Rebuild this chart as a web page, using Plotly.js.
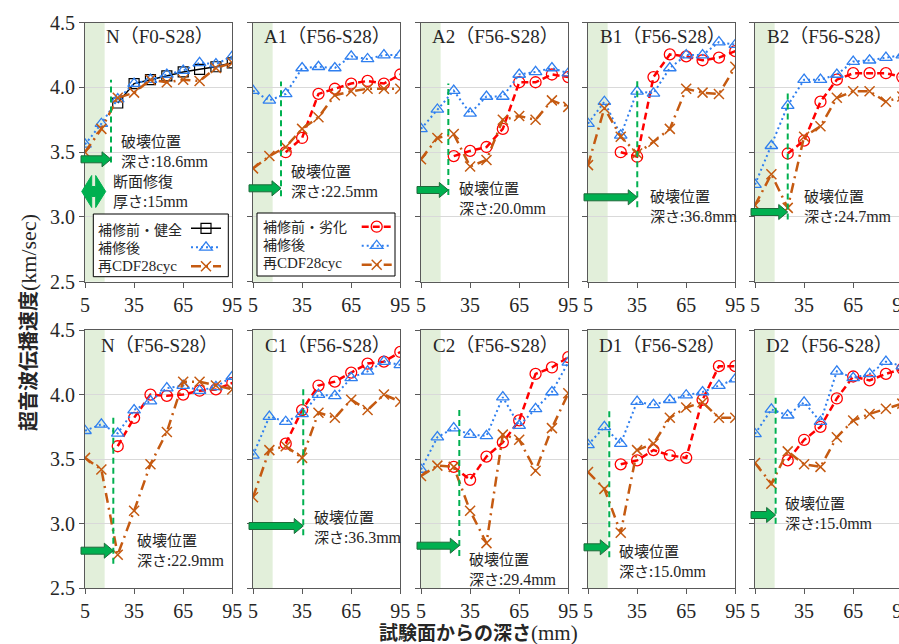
<!DOCTYPE html>
<html><head><meta charset="utf-8">
<script src="https://cdn.plot.ly/plotly-3.0.1.min.js"></script>
<style>html,body{margin:0;padding:0;overflow:hidden;background:#fff}#chart{width:905px;height:644px}</style>
</head><body><div id="chart"></div>
<script>
// ---------- data ----------
const depth = [5, 15, 25, 35, 45, 55, 65, 75, 85, 95];
const xTickVals = [5, 35, 65, 95];
const yTickVals = [2.5, 3.0, 3.5, 4.0, 4.5];
const panelTitles = ['N（F0-S28）','A1（F56-S28）','A2（F56-S28）','B1（F56-S28）','B2（F56-S28）',
                     'N（F56-S28）','C1（F56-S28）','C2（F56-S28）','D1（F56-S28）','D2（F56-S28）'];
const seriesNames = ['補修前・健全', '補修前・劣化', '補修後', '再CDF28cyc'];
const breakDepthLabel = ['18.6','22.5','20.0','36.8','24.7','22.9','36.3','29.4','15.0','15.0'];
const repairThickness = '15';

// 補修前 (panel 1: 健全, others: 劣化)
const before_N_F0 = [null, null, 3.88, 4.03, 4.06, 4.09, 4.12, 4.14, 4.16, 4.19];
const before_A1   = [null, null, 3.50, 3.61, 3.95, 3.99, 4.03, 4.05, 4.03, 4.10];
const before_A2   = [null, null, 3.47, 3.51, 3.54, 3.68, 4.04, 4.04, 4.10, 4.08];
const before_B1   = [null, null, 3.50, 3.465, 4.08, 4.255, 4.24, 4.21, 4.23, 4.28];
const before_B2   = [null, null, 3.49, 3.59, 3.89, 4.06, 4.11, 4.11, 4.11, 4.08];
const before_N_F56= [null, null, 3.60, 3.82, 4.00, 3.99, 4.00, 4.03, 4.04, 4.09];
const before_C1   = [null, null, 3.62, 3.88, 4.07, 4.10, 4.17, 4.24, 4.255, 4.33];
const before_C2   = [null, null, 3.44, 3.34, 3.52, 3.63, 3.80, 4.16, 4.21, 4.29];
const before_D1   = [null, null, 3.46, 3.49, 3.57, 3.53, 3.51, 3.96, 4.22, 4.22];
const before_D2   = [null, null, 3.49, 3.65, 3.75, 3.97, 4.14, 4.11, 4.16, 4.20];

// 補修後
const after_N_F0  = [3.56, 3.72, 3.91, 4.03, 4.06, 4.10, 4.13, 4.19, 4.18, 4.24];
const after_A1    = [3.975, 3.90, 3.95, 4.15, 4.16, 4.15, 4.24, 4.22, 4.25, 4.25];
const after_A2    = [3.68, 3.83, 3.975, 3.80, 3.93, 3.93, 4.10, 4.12, 4.15, 4.11];
const after_B1    = [3.72, 3.89, 3.63, 3.97, 3.955, 4.15, 4.25, 4.25, 4.35, 4.33];
const after_B2    = [3.25, 3.55, 3.86, 4.06, 4.06, 4.10, 4.20, 4.21, 4.23, 4.25];
const after_N_F56 = [3.72, 3.77, 3.70, 3.88, 3.95, 4.05, 4.07, 4.03, 4.06, 4.14];
const after_C1    = [3.53, 3.83, 3.79, 3.85, 4.00, 3.99, 4.13, 4.18, 4.255, 4.23];
const after_C2    = [3.42, 3.67, 3.74, 3.69, 3.68, 3.98, 3.76, 3.89, 4.02, 4.25];
const after_D1    = [3.61, 3.75, 3.62, 3.945, 3.92, 3.96, 3.995, 4.02, 4.07, 4.12];
const after_D2    = [3.695, 3.885, 3.84, 3.94, 3.79, 4.18, 4.13, 4.16, 4.255, 4.22];

// 再CDF28cyc
const recdf_N_F0  = [3.50, 3.68, 3.92, 3.96, 4.06, 4.04, 4.06, 4.05, 4.15, 4.19];
const recdf_A1    = [3.375, 3.47, 3.54, 3.68, 3.77, 3.94, 3.97, 3.99, 3.99, 3.99];
const recdf_A2    = [3.445, 3.61, 3.64, 3.39, 3.44, 3.75, 3.78, 3.75, 3.90, 3.85];
const recdf_B1    = [3.40, 3.84, 3.62, 3.49, 3.58, 3.68, 3.99, 3.96, 3.95, 4.16];
const recdf_B2    = [3.09, 3.33, 3.07, 3.62, 3.70, 3.92, 3.97, 3.97, 3.89, 3.93];
const recdf_N_F56 = [3.51, 3.42, 2.76, 3.10, 3.46, 3.71, 4.10, 4.10, 4.07, 4.04];
const recdf_C1    = [3.205, 3.57, 3.60, 3.51, 3.86, 3.82, 3.96, 3.88, 4.00, 3.945];
const recdf_C2    = [3.37, 3.45, 3.44, 3.10, 2.85, 3.69, 3.65, 3.41, 3.74, 4.01];
const recdf_D1    = [3.40, 3.27, 2.93, 3.57, 3.62, 3.82, 3.90, 3.94, 3.82, 3.82];
const recdf_D2    = [3.47, 3.31, 3.56, 3.46, 3.44, 3.67, 3.80, 3.85, 3.89, 3.93];

// ---------- layout geometry / styling (not data) ----------
const W = 905, H = 644;
const colLeft = [85, 253, 421, 588, 755];
const colW = 147.3;
const rowTop = [22.7, 330];
const rowH = [259, 258.3];
const BLUE = '#2F7FEF', RED = '#FF0000', ORANGE = '#C55A11', BLACK = '#000000', GREEN = '#00B050', DKGREEN = '#1E6B3A';
const TXT = '#262626';
const SERIF = 'Liberation Serif';
const SERIF_CSS = "'Liberation Serif'";
const CJK = 'Noto Sans CJK JP';
const px2x = p => p / W, py2y = p => 1 - p / H;

const befores = [before_N_F0, before_A1, before_A2, before_B1, before_B2, before_N_F56, before_C1, before_C2, before_D1, before_D2];
const afters  = [after_N_F0, after_A1, after_A2, after_B1, after_B2, after_N_F56, after_C1, after_C2, after_D1, after_D2];
const recdfs  = [recdf_N_F0, recdf_A1, recdf_A2, recdf_B1, recdf_B2, recdf_N_F56, recdf_C1, recdf_C2, recdf_D1, recdf_D2];

// decoration placement per panel
const deco = [
  {lineX: 20.9, lineY: [3.42, 4.06],  arrowPy: 159.3, textPx: [119.3, 150.9]},
  {lineX: 22.1, lineY: [3.16, 4.045], arrowPy: 188.3, textPx: [289.3, 180.5]},
  {lineX: 21.7, lineY: [3.17, 4.03],  arrowPy: 190.0, textPx: [456.7, 197.5]},
  {lineX: 35.1, lineY: [3.075, 4.07], arrowPy: 197.3, textPx: [647.7, 205.3]},
  {lineX: 25.0, lineY: [2.98, 3.975], arrowPy: 212.0, textPx: [801.7, 205.3]},
  {lineX: 22.3, lineY: [2.69, 3.84],  arrowPy: 550.7, textPx: [135.0, 549.2]},
  {lineX: 35.7, lineY: [2.91, 4.06],  arrowPy: 526.0, textPx: [311.7, 526.7]},
  {lineX: 28.4, lineY: [2.75, 3.89],  arrowPy: 545.7, textPx: [467.3, 568.0]},
  {lineX: 18.0, lineY: [2.74, 3.89],  arrowPy: 547.3, textPx: [616.7, 560.0]},
  {lineX: 17.6, lineY: [3.00, 4.00],  arrowPy: 515.0, textPx: [782.7, 512.5]}
];

const traces = [];
const layout = {
  width: W, height: H,
  margin: {l: 0, r: 0, t: 0, b: 0},
  paper_bgcolor: '#ffffff', plot_bgcolor: 'rgba(0,0,0,0)',
  showlegend: true, hovermode: false,
  font: {family: CJK, color: TXT},
  shapes: [], annotations: [],
  legend:  {x: px2x(186), y: py2y(213.8), xanchor: 'left', yanchor: 'top', bgcolor: 'rgba(0,0,0,0)', borderwidth: 0, font: {size: 10}, itemwidth: 30, tracegroupgap: 0},
  legend2: {x: px2x(356.7), y: py2y(212.2), xanchor: 'left', yanchor: 'top', bgcolor: 'rgba(0,0,0,0)', borderwidth: 0, font: {size: 10}, itemwidth: 30, tracegroupgap: 0}
};

// legend boxes
layout.shapes.push({type: 'rect', xref: 'paper', yref: 'paper', x0: px2x(93.3), x1: px2x(228.3), y0: py2y(276.7), y1: py2y(214),
  fillcolor: '#ffffff', line: {color: '#000', width: 1}, layer: 'above'});
layout.shapes.push({type: 'rect', xref: 'paper', yref: 'paper', x0: px2x(257), x1: px2x(395), y0: py2y(276), y1: py2y(213),
  fillcolor: '#ffffff', line: {color: '#000', width: 1}, layer: 'above'});

for (let i = 0; i < 10; i++) {
  const row = i < 5 ? 0 : 1, col = i % 5;
  const n = i === 0 ? '' : String(i + 1);
  const xa = 'x' + n, ya = 'y' + n;
  const left = colLeft[col];
  layout['xaxis' + n] = {
    domain: [px2x(left), px2x(left + colW)], anchor: ya, range: [5, 95],
    tickmode: 'array', tickvals: xTickVals, ticks: 'outside', ticklen: 5, tickcolor: '#595959',
    showline: true, mirror: true, linecolor: '#595959', linewidth: 1,
    showgrid: false, zeroline: false, fixedrange: true, ticklabeloverflow: 'allow',
    tickfont: {family: SERIF, size: 20, color: TXT}
  };
  layout['yaxis' + n] = {
    domain: [py2y(rowTop[row] + rowH[row]), py2y(rowTop[row])], anchor: xa, range: [2.5, 4.5],
    tickmode: 'array', tickvals: yTickVals, tickformat: '.1f', showticklabels: col === 0,
    ticks: 'outside', ticklen: 5, tickcolor: '#595959',
    showline: true, mirror: true, linecolor: '#595959', linewidth: 1,
    showgrid: true, gridcolor: '#d9d9d9', gridwidth: 1, zeroline: false, fixedrange: true,
    tickfont: {family: SERIF, size: 20, color: TXT}
  };

  const legendId = i === 0 ? 'legend' : (i === 1 ? 'legend2' : null);
  const base = {x: depth, xaxis: xa, yaxis: ya, type: 'scatter', mode: 'lines+markers', name: '',
                showlegend: legendId !== null, legend: legendId || 'legend'};
  if (i === 0) {
    traces.push(Object.assign({}, base, {y: befores[i],
      line: {color: BLACK, width: 1.5},
      marker: {symbol: 'square-open', size: 10, color: BLACK, line: {width: 1.2, color: BLACK}}}));
  } else {
    traces.push(Object.assign({}, base, {y: befores[i],
      line: {color: RED, width: 2.5, dash: '7px,4px'},
      marker: {symbol: 'circle-open', size: 11, color: RED, line: {width: 1.3, color: RED}}}));
  }
  traces.push(Object.assign({}, base, {y: afters[i],
    line: {color: BLUE, width: 2, dash: '2px,3px'},
    marker: {symbol: 'triangle-up-open', size: 11, color: BLUE, line: {width: 1.3, color: BLUE}}}));
  traces.push(Object.assign({}, base, {y: recdfs[i],
    line: {color: ORANGE, width: 2.5, dash: '10px,5px,2px,5px'},
    marker: {symbol: 'x-thin', size: 10, color: ORANGE, line: {width: 1.5, color: ORANGE}}}));

  layout.shapes.push({type: 'rect', xref: xa, yref: ya + ' domain', x0: 5, x1: 17, y0: 0, y1: 1,
    fillcolor: '#E2EFDA', line: {width: 0}, layer: 'below'});
  const d = deco[i];
  layout.shapes.push({type: 'line', xref: xa, yref: ya, x0: d.lineX, x1: d.lineX, y0: d.lineY[0], y1: d.lineY[1],
    line: {color: GREEN, width: 2, dash: '6px,4px'}, layer: 'above'});
  const startPx = left - 4;
  const tipPx = left + (d.lineX - 5) * colW / 90;
  const L = tipPx - startPx;
  layout.shapes.push({type: 'path', xref: 'paper', yref: 'paper', xsizemode: 'pixel', ysizemode: 'pixel',
    xanchor: px2x(startPx), yanchor: py2y(d.arrowPy),
    path: `M0,-3.5 L${L - 9},-3.5 L${L - 9},-7.5 L${L},0 L${L - 9},7.5 L${L - 9},3.5 L0,3.5 Z`,
    fillcolor: GREEN, line: {color: DKGREEN, width: 1}, layer: 'above'});
  layout.annotations.push({xref: 'paper', yref: 'paper', x: px2x(d.textPx[0]), y: py2y(d.textPx[1]),
    xanchor: 'left', yanchor: 'middle', align: 'left', showarrow: false,
    text: `破壊位置<br>深さ:<span style="font-family:${SERIF_CSS};font-size:16px">${breakDepthLabel[i]}mm</span>`,
    font: {family: CJK, size: 15, color: TXT}});
  layout.annotations.push({xref: 'paper', yref: 'paper', x: px2x(left + colW / 2 + 1), y: py2y(row === 0 ? 36.7 : 345),
    xanchor: 'center', yanchor: 'middle', showarrow: false, text: panelTitles[i],
    font: {family: 'Liberation Serif, Noto Sans CJK JP', size: 19, color: TXT}});
}

// double arrow (repair thickness) in panel 1
layout.shapes.push({type: 'path', xref: 'paper', yref: 'paper', xsizemode: 'pixel', ysizemode: 'pixel',
  xanchor: px2x(81.7), yanchor: py2y(191.5),
  path: 'M0,0 L10,-16 L10,-5 L14,-5 L14,-16 L24,0 L14,16 L14,5 L10,5 L10,16 Z',
  fillcolor: GREEN, line: {color: GREEN, width: 1}, layer: 'above'});
layout.annotations.push({xref: 'paper', yref: 'paper', x: px2x(111), y: py2y(190.8),
  xanchor: 'left', yanchor: 'middle', align: 'left', showarrow: false,
  text: `断面修復<br>厚さ:<span style="font-family:${SERIF_CSS};font-size:16px">${repairThickness}mm</span>`,
  font: {family: CJK, size: 15, color: TXT}});

// legend texts
const serifSpan = s => `<span style="font-family:${SERIF_CSS};font-size:15px">${s}</span>`;
layout.annotations.push({xref: 'paper', yref: 'paper', x: px2x(95.5), y: py2y(247.3), xanchor: 'left', yanchor: 'middle',
  align: 'left', showarrow: false,
  text: `${seriesNames[0]}<br>${seriesNames[2]}<br>再${serifSpan('CDF28cyc')}`,
  font: {family: CJK, size: 14, color: TXT}});
layout.annotations.push({xref: 'paper', yref: 'paper', x: px2x(260.5), y: py2y(244), xanchor: 'left', yanchor: 'middle',
  align: 'left', showarrow: false,
  text: `${seriesNames[1]}<br>${seriesNames[2]}<br>再${serifSpan('CDF28cyc')}`,
  font: {family: CJK, size: 14, color: TXT}});

// axis titles
layout.annotations.push({xref: 'paper', yref: 'paper', x: px2x(27), y: py2y(323), xanchor: 'center', yanchor: 'middle',
  textangle: -90, showarrow: false,
  text: `<b>超音波伝播速度</b><span style="font-family:${SERIF_CSS};font-size:22px">(km/sec)</span>`,
  font: {family: CJK, size: 20, color: TXT}});
layout.annotations.push({xref: 'paper', yref: 'paper', x: px2x(479), y: py2y(631), xanchor: 'center', yanchor: 'middle',
  showarrow: false,
  text: `<b>試験面からの深さ</b><span style="font-family:${SERIF_CSS};font-size:21px">(mm)</span>`,
  font: {family: CJK, size: 19, color: TXT}});

Plotly.newPlot('chart', traces, layout, {staticPlot: true, displayModeBar: false});
</script>
</body></html>
